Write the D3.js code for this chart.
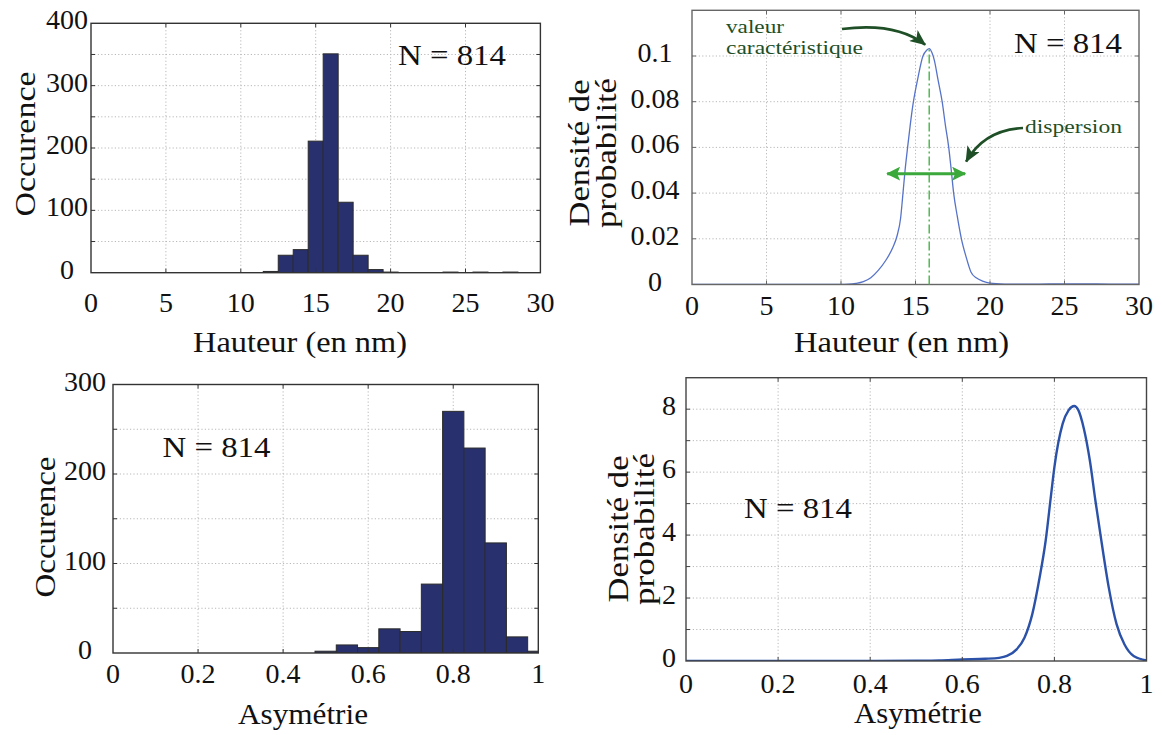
<!DOCTYPE html>
<html>
<head>
<meta charset="utf-8">
<script src="https://cdn.jsdelivr.net/npm/d3@7"></script>
<style>
  body { margin: 0; background: #fff; }
  svg { display: block; }
</style>
</head>
<body>
<div id="chart"></div>
<script>
// ---------------- DATA ----------------
// Top-left histogram: height (nm), 1-nm bins
const heightBinCenters = [12, 13, 14, 15, 16, 17, 18, 19, 20, 24, 26, 28];
const heightCounts     = [2, 28, 37, 211, 351, 113, 28, 5, 1, 1, 1, 1];
const heightBinWidth = 1;
const heightXTicks = [0, 5, 10, 15, 20, 25, 30];
const heightCountTicks = [0, 100, 200, 300, 400];
const heightCountGrid = [50, 100, 150, 200, 250, 300, 350];

// Top-right density: height (nm)
const heightKdeX = [0, 5, 10, 10.5, 11, 11.5, 12, 12.5, 13, 13.5, 13.75, 14, 14.16, 14.3, 14.47, 14.65, 14.86, 15.15, 15.5, 15.75, 15.92, 16.1, 16.27, 16.5, 16.79, 17.0, 17.23, 17.4, 17.56, 17.8, 18.08, 18.4, 18.72, 19.1, 19.5, 20, 21, 22, 24, 26, 28, 30];
const heightKdeY = [0, 0, 0, 0.0001, 0.0005, 0.0013, 0.003, 0.0062, 0.0105, 0.0165, 0.021, 0.029, 0.04, 0.05, 0.06, 0.07, 0.08, 0.09, 0.1, 0.1025, 0.1032, 0.1015, 0.098, 0.09, 0.08, 0.07, 0.06, 0.05, 0.04, 0.03, 0.02, 0.012, 0.0055, 0.0028, 0.0015, 0.0006, 0.0002, 0.0001, 0.0003, 0.0003, 0.0002, 0.0001];
const densityTicksTop = [0, 0.02, 0.04, 0.06, 0.08, 0.1];
const densityGridTop = [0.02, 0.04, 0.06, 0.08, 0.1];
const characteristicValue = 15.92;
const dispersionRange = [13.1, 18.33];
const dispersionLevel = 0.0485;

// Bottom-left histogram: asymmetry, 0.05 bins
const asymBinCenters = [0.5, 0.55, 0.6, 0.65, 0.7, 0.75, 0.8, 0.85, 0.9, 0.95, 1.0];
const asymCounts     = [2, 9, 6, 27, 24, 77, 270, 229, 123, 18, 2];
const asymBinWidth = 0.05;
const asymXTicks = [0, 0.2, 0.4, 0.6, 0.8, 1];
const asymCountTicks = [0, 100, 200, 300];
const asymCountGrid = [50, 100, 150, 200, 250];

// Bottom-right density: asymmetry
const asymKdeX = [0, 0.1, 0.2, 0.3, 0.4, 0.5, 0.55, 0.6, 0.65, 0.68, 0.697, 0.718, 0.735, 0.752, 0.768, 0.781, 0.793, 0.80, 0.818, 0.831, 0.843, 0.852, 0.864, 0.877, 0.889, 0.902, 0.918, 0.935, 0.952, 0.972, 1.0];
const asymKdeY = [0, 0, 0, 0, 0.003, 0.01, 0.02, 0.05, 0.07, 0.1, 0.16, 0.37, 0.74, 1.49, 2.66, 3.82, 5.31, 6.16, 7.54, 7.97, 8.1, 7.97, 7.38, 6.37, 5.1, 3.82, 2.34, 1.17, 0.53, 0.16, 0.02];
const densityTicksBottom = [0, 2, 4, 6, 8];
const densityGridBottom = [1, 2, 3, 4, 5, 6, 7, 8];

const nLabel = "N = 814";

// ---------------- DRAWING ----------------
const W = 1162, H = 735;
const svg = d3.select("#chart").append("svg").attr("width", W).attr("height", H)
  .attr("font-family", "'Liberation Serif', 'DejaVu Serif', serif")
  .style("font-family", "'Liberation Serif', 'DejaVu Serif', serif");
const fmt = v => String(+v.toFixed(3));
const TXT = "#111";

const defs = svg.append("defs");

function panel(cfg) {
  const x = d3.scaleLinear().domain(cfg.xDomain).range([cfg.left, cfg.right]);
  const y = d3.scaleLinear().domain(cfg.yDomain).range([cfg.bottom, cfg.top]);
  const g = svg.append("g");
  const clipId = "clip" + cfg.id;
  defs.append("clipPath").attr("id", clipId).append("rect")
    .attr("x", cfg.left).attr("y", cfg.top)
    .attr("width", cfg.right - cfg.left).attr("height", cfg.bottom - cfg.top);

  // grid
  const grid = g.append("g").attr("stroke", "#b8b8b8").attr("stroke-width", 1).attr("stroke-dasharray", "1.2,2.2");
  grid.selectAll(".gx").data(cfg.xTicks.filter(v => v > cfg.xDomain[0] && v < cfg.xDomain[1])).join("line")
    .attr("x1", d => x(d)).attr("x2", d => x(d)).attr("y1", cfg.top).attr("y2", cfg.bottom);
  grid.selectAll(".gy").data(cfg.yGrid).join("line")
    .attr("x1", cfg.left).attr("x2", cfg.right).attr("y1", d => y(d)).attr("y2", d => y(d));

  const plot = g.append("g").attr("clip-path", `url(#${clipId})`);
  if (cfg.draw) cfg.draw(plot, x, y);

  // inward ticks on all sides
  const tk = g.append("g").attr("stroke", cfg.boxColor).attr("stroke-width", 1);
  const xt = cfg.xTicks.filter(v => v > cfg.xDomain[0] && v < cfg.xDomain[1]);
  tk.selectAll(".tb").data(xt).join("line").attr("x1", d => x(d)).attr("x2", d => x(d)).attr("y1", cfg.bottom).attr("y2", cfg.bottom - 4);
  tk.selectAll(".tt").data(xt).join("line").attr("x1", d => x(d)).attr("x2", d => x(d)).attr("y1", cfg.top).attr("y2", cfg.top + 4);
  tk.selectAll(".tl").data(cfg.yGrid).join("line").attr("y1", d => y(d)).attr("y2", d => y(d)).attr("x1", cfg.left).attr("x2", cfg.left + 4);
  tk.selectAll(".tr").data(cfg.yGrid).join("line").attr("y1", d => y(d)).attr("y2", d => y(d)).attr("x1", cfg.right).attr("x2", cfg.right - 4);

  // box
  g.append("rect").attr("x", cfg.left).attr("y", cfg.top)
    .attr("width", cfg.right - cfg.left).attr("height", cfg.bottom - cfg.top)
    .attr("fill", "none").attr("stroke", cfg.boxColor).attr("stroke-width", 1.4);

  // tick labels
  g.append("g").selectAll("text").data(cfg.xTicks).join("text")
    .attr("x", d => x(d)).attr("y", cfg.bottom + cfg.xLabOff)
    .attr("text-anchor", "middle").attr("font-size", 28).attr("fill", TXT).text(fmt);
  g.append("g").selectAll("text").data(cfg.yTicks).join("text")
    .attr("x", cfg.yLabX).attr("y", d => y(d) + 6)
    .attr("text-anchor", "middle").attr("font-size", 28).attr("fill", TXT).text(fmt);

  // axis titles
  g.append("text").attr("x", cfg.xTitle[0]).attr("y", cfg.xTitle[1])
    .attr("text-anchor", "middle").attr("font-size", 29).attr("fill", TXT)
    .attr("textLength", cfg.xTitle[2]).attr("lengthAdjust", "spacingAndGlyphs")
    .text(cfg.xTitleText);
  cfg.yTitleLines.forEach(ln => {
    g.append("text")
      .attr("transform", `translate(${ln.x},${cfg.yTitleCy}) rotate(-90)`)
      .attr("text-anchor", "middle").attr("font-size", 29).attr("fill", TXT)
      .attr("textLength", ln.len).attr("lengthAdjust", "spacingAndGlyphs")
      .text(ln.text);
  });

  // N label
  g.append("text").attr("x", cfg.nPos[0]).attr("y", cfg.nPos[1]).attr("fill", TXT)
    .attr("font-size", 29).attr("textLength", 108).attr("lengthAdjust", "spacingAndGlyphs")
    .text(nLabel);
  return {x, y, g};
}

function drawBars(centers, counts, width, fill) {
  return (plot, x, y) => {
    plot.selectAll("rect").data(centers.map((c, i) => ({c, v: counts[i]}))).join("rect")
      .attr("x", d => x(d.c - width / 2))
      .attr("width", d => x(d.c + width / 2) - x(d.c - width / 2))
      .attr("y", d => y(d.v))
      .attr("height", d => y(0) - y(d.v))
      .attr("fill", fill).attr("stroke", "#2b2b2b").attr("stroke-width", 1);
  };
}

function drawCurve(xs, ys, color, w) {
  return (plot, x, y) => {
    const line = d3.line().x(d => x(d[0])).y(d => y(d[1])).curve(d3.curveMonotoneX);
    plot.append("path").datum(xs.map((v, i) => [v, ys[i]]))
      .attr("d", line).attr("fill", "none").attr("stroke", color).attr("stroke-width", w)
      .attr("stroke-linejoin", "round");
  };
}

// Top-left
panel({
  id: "tl", left: 91, right: 540.4, top: 23.3, bottom: 272.7,
  xDomain: [0, 30], yDomain: [0, 400],
  xTicks: heightXTicks, yTicks: heightCountTicks, yGrid: heightCountGrid,
  xLabOff: 39, yLabX: 67, boxColor: "#333",
  xTitle: [300, 352, 214], xTitleText: "Hauteur (en nm)",
  yTitleLines: [{x: 35, len: 145, text: "Occurence"}], yTitleCy: 144,
  nPos: [398, 65],
  draw: drawBars(heightBinCenters, heightCounts, heightBinWidth, "#28306d")
});

// Top-right
const tr = panel({
  id: "tr", left: 692, right: 1139, top: 10.3, bottom: 284.5,
  xDomain: [0, 30], yDomain: [0, 0.12],
  xTicks: heightXTicks, yTicks: densityTicksTop, yGrid: densityGridTop,
  xLabOff: 30.5, yLabX: 655, boxColor: "#666",
  xTitle: [901.6, 352, 215], xTitleText: "Hauteur (en nm)",
  yTitleLines: [{x: 589, len: 147, text: "Densité de"}, {x: 616, len: 150, text: "probabilité"}], yTitleCy: 153,
  nPos: [1014, 53],
  draw: drawCurve(heightKdeX, heightKdeY, "#5673c9", 1.3)
});

// annotations on top-right
(function () {
  const {x, y, g} = tr;
  const dark = "#1f4f26", light = "#3aa83a";
  defs.append("marker").attr("id", "darkHead").attr("markerUnits", "userSpaceOnUse")
    .attr("viewBox", "0 0 16 14").attr("markerWidth", 16).attr("markerHeight", 14)
    .attr("refX", 15).attr("refY", 7).attr("orient", "auto")
    .append("path").attr("d", "M0,0 L16,7 L0,14 L4,7 Z").attr("fill", dark);
  defs.append("marker").attr("id", "lightHead").attr("markerUnits", "userSpaceOnUse")
    .attr("viewBox", "0 0 14 14").attr("markerWidth", 14).attr("markerHeight", 14)
    .attr("refX", 13).attr("refY", 7).attr("orient", "auto-start-reverse")
    .append("path").attr("d", "M0,0 L14,7 L0,14 L3,7 Z").attr("fill", light);

  // characteristic value dash-dot line
  g.append("line")
    .attr("x1", x(characteristicValue)).attr("x2", x(characteristicValue))
    .attr("y1", y(0)).attr("y2", y(d3.max(heightKdeY)))
    .attr("stroke", "#45b545").attr("stroke-width", 1.4).attr("stroke-dasharray", "9,3,2,3");

  // dispersion double arrow
  g.append("line")
    .attr("x1", x(dispersionRange[0])).attr("x2", x(dispersionRange[1]))
    .attr("y1", y(dispersionLevel)).attr("y2", y(dispersionLevel))
    .attr("stroke", light).attr("stroke-width", 3)
    .attr("marker-start", "url(#lightHead)").attr("marker-end", "url(#lightHead)");

  // labels
  const lab = g.append("g").attr("font-size", 19.5).attr("fill", dark);
  lab.append("text").attr("x", 726).attr("y", 33)
    .attr("textLength", 58).attr("lengthAdjust", "spacingAndGlyphs").text("valeur");
  lab.append("text").attr("x", 726).attr("y", 54)
    .attr("textLength", 137).attr("lengthAdjust", "spacingAndGlyphs").text("caractéristique");
  lab.append("text").attr("x", 1025).attr("y", 133)
    .attr("textLength", 97).attr("lengthAdjust", "spacingAndGlyphs").text("dispersion");

  // curved arrows
  const peakX = x(characteristicValue), peakY = y(d3.max(heightKdeY));
  g.append("path").attr("d", `M842,29 Q896,22 ${peakX - 4},${peakY - 4}`)
    .attr("fill", "none").attr("stroke", dark).attr("stroke-width", 2.6)
    .attr("marker-end", "url(#darkHead)");
  const tipX = x(dispersionRange[1]) + 1, tipY = y(dispersionLevel) - 12;
  g.append("path").attr("d", `M1023,128 Q984,130 ${tipX},${tipY}`)
    .attr("fill", "none").attr("stroke", dark).attr("stroke-width", 2.6)
    .attr("marker-end", "url(#darkHead)");
})();

// Bottom-left
panel({
  id: "bl", left: 113, right: 538.3, top: 384.5, bottom: 653,
  xDomain: [0, 1], yDomain: [0, 300],
  xTicks: asymXTicks, yTicks: asymCountTicks, yGrid: asymCountGrid,
  xLabOff: 30, yLabX: 85, boxColor: "#333",
  xTitle: [303, 724, 130], xTitleText: "Asymétrie",
  yTitleLines: [{x: 55, len: 141, text: "Occurence"}], yTitleCy: 527,
  nPos: [162.5, 456.7],
  draw: drawBars(asymBinCenters, asymCounts, asymBinWidth, "#28306d")
});

// Bottom-right
panel({
  id: "br", left: 686, right: 1146.5, top: 377.7, bottom: 661,
  xDomain: [0, 1], yDomain: [0, 9],
  xTicks: asymXTicks, yTicks: densityTicksBottom, yGrid: densityGridBottom,
  xLabOff: 32, yLabX: 669, boxColor: "#444",
  xTitle: [918, 723, 128], xTitleText: "Asymétrie",
  yTitleLines: [{x: 628, len: 147, text: "Densité de"}, {x: 654, len: 152, text: "probabilité"}], yTitleCy: 529,
  nPos: [744, 518],
  draw: drawCurve(asymKdeX, asymKdeY, "#2b52a8", 2.4)
});
</script>
</body>
</html>
